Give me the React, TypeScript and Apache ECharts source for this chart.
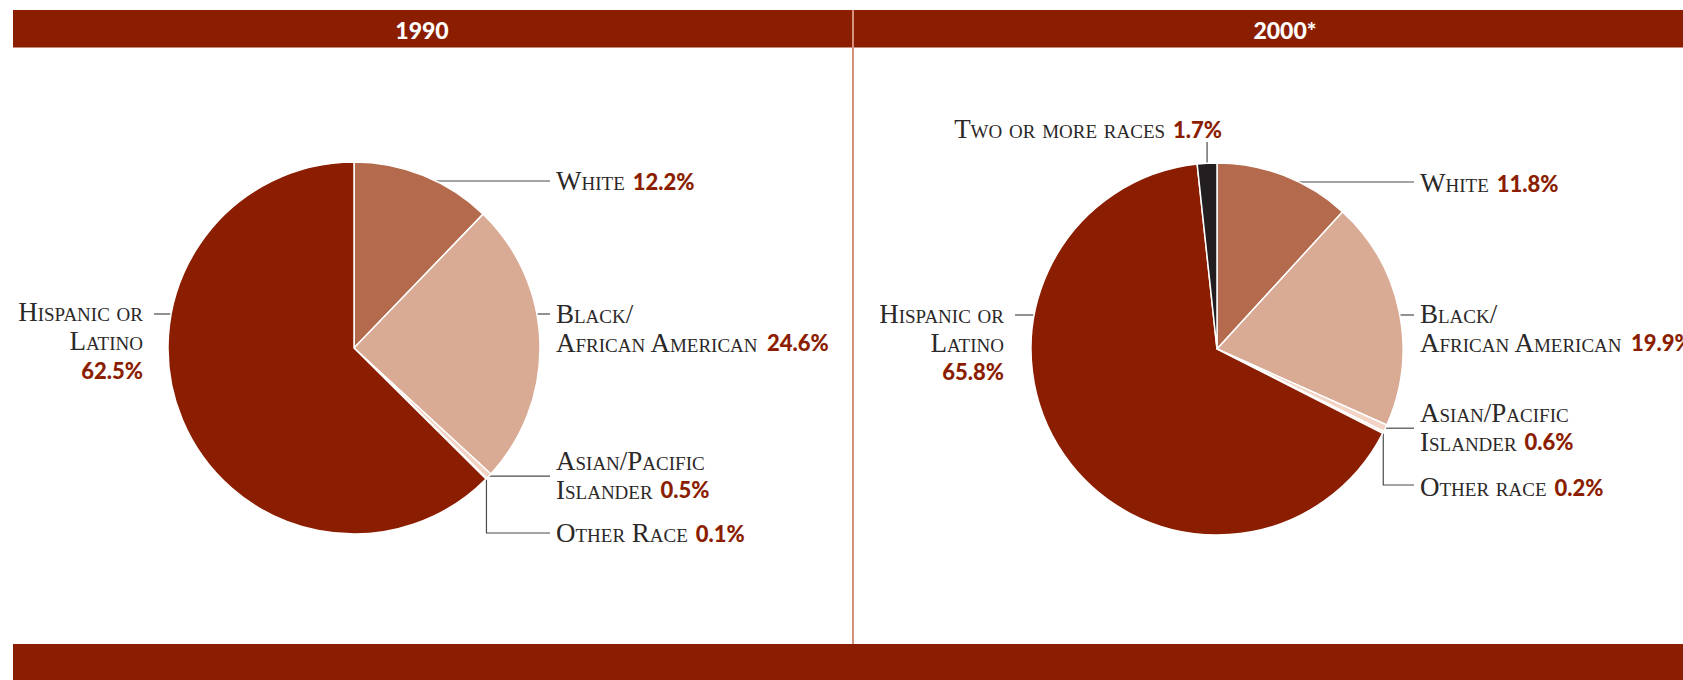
import React, { useEffect, useRef } from 'react';
import * as echarts from 'echarts';

// ---------- data ----------
const YEARS = ['1990', '2000*'];

const CATS_1990 = ['White', 'Black/\nAfrican American', 'Asian/Pacific\nIslander', 'Other Race', 'Hispanic or\nLatino'];
const VALS_1990 = [12.2, 24.6, 0.5, 0.1, 62.5];

const CATS_2000 = ['White', 'Black/\nAfrican American', 'Asian/Pacific\nIslander', 'Other race', 'Hispanic or\nLatino', 'Two or more races'];
const VALS_2000 = [11.8, 19.9, 0.6, 0.2, 65.8, 1.7];

// ---------- styles / layout ----------
const COLORS_1990 = ['#b46a4d', '#d9aa94', '#f2d3c4', '#f8e7de', '#8b1e00'];
const COLORS_2000 = ['#b46a4d', '#d9aa94', '#f2d3c4', '#f8e7de', '#8b1e00', '#231f20'];

const DARK_RED = '#8b1e00';
const DIVIDER = '#d4917b';
const LEADER = '#4a4a4a';

type Spot = {
  x: number;
  y: number;
  align: 'left' | 'right';
  va: 'top' | 'middle';
  lead: 'h' | 'edge' | 'elbow' | 'up';
  ly?: number;
  own?: boolean;
};

const PIES = [
  { cx: 354, cy: 348, r: 186 },
  { cx: 1217, cy: 349, r: 186 },
];

const SPOTS_1990: Spot[] = [
  { x: 556, y: 181, align: 'left', va: 'middle', lead: 'h', ly: 181 },
  { x: 556, y: 299, align: 'left', va: 'top', lead: 'h', ly: 314 },
  { x: 556, y: 475, align: 'left', va: 'middle', lead: 'edge' },
  { x: 556, y: 533, align: 'left', va: 'middle', lead: 'elbow', ly: 533 },
  { x: 143, y: 297.5, align: 'right', va: 'top', lead: 'h', ly: 314, own: true },
];
const SPOTS_2000: Spot[] = [
  { x: 1420, y: 183, align: 'left', va: 'middle', lead: 'h', ly: 182 },
  { x: 1420, y: 299, align: 'left', va: 'top', lead: 'h', ly: 315 },
  { x: 1420, y: 427, align: 'left', va: 'middle', lead: 'edge' },
  { x: 1420, y: 487, align: 'left', va: 'middle', lead: 'elbow', ly: 485 },
  { x: 1004, y: 299, align: 'right', va: 'top', lead: 'h', ly: 315, own: true },
  { x: 1222, y: 129, align: 'right', va: 'middle', lead: 'up', ly: 142 },
];

const RICH = {
  n: {
    fontFamily: 'Liberation Serif',
    fontStyle: 'small-caps',
    fontSize: 27,
    color: '#2b2828',
    lineHeight: 29,
  },
  p: {
    fontFamily: 'Lato',
    fontWeight: 900,
    fontSize: 22,
    color: DARK_RED,
    lineHeight: 29,
  },
  s: {
    fontFamily: 'Lato',
    fontSize: 22,
    lineHeight: 29,
    width: 8,
  },
};

function fmt(cat: string, val: number, own?: boolean) {
  const lines = cat.split('\n');
  const pct = `{p|${val.toFixed(1)}%}`;
  if (own) return lines.map((l) => `{n|${l}}`).join('\n') + '\n' + pct;
  return lines
    .map((l, i) => (i === lines.length - 1 ? `{n|${l}}{s| }${pct}` : `{n|${l}}`))
    .join('\n');
}

function edgePoint(pieIdx: number, vals: number[], i: number) {
  const { cx, cy, r } = PIES[pieIdx];
  const sum = vals.reduce((a, b) => a + b, 0);
  let cum = 0;
  for (let k = 0; k < i; k++) cum += vals[k];
  const th = ((cum + vals[i] / 2) / sum) * Math.PI * 2;
  return [cx + r * Math.sin(th), cy - r * Math.cos(th)];
}

function makeSeries(pieIdx: number, cats: string[], vals: number[], colors: string[], spots: Spot[]) {
  const { cx, cy, r } = PIES[pieIdx];
  return {
    type: 'pie',
    center: [cx, cy],
    radius: r,
    startAngle: 90,
    clockwise: true,
    avoidLabelOverlap: false,
    silent: true,
    animation: false,
    itemStyle: { borderColor: '#ffffff', borderWidth: 1.5 },
    emphasis: { disabled: true },
    label: {
      show: true,
      position: 'outside',
      formatter: (p: any) => fmt(cats[p.dataIndex], vals[p.dataIndex], spots[p.dataIndex].own),
      rich: RICH,
    },
    labelLine: {
      show: true,
      length: 5,
      length2: 5,
      smooth: false,
      lineStyle: { color: LEADER, width: 1.2 },
    },
    labelLayout: (p: any) => {
      const s = spots[p.dataIndex];
      const endX = s.align === 'left' ? s.x - 6 : s.x + 11;
      let pts: number[][] = [];
      if (s.lead === 'h') {
        const dy = (s.ly as number) - cy;
        const half = Math.sqrt(r * r - dy * dy) - 9;
        const sx = s.align === 'left' ? cx + half : cx - half;
        pts = [[sx, s.ly as number], [endX, s.ly as number]];
      } else if (s.lead === 'edge') {
        const e = edgePoint(pieIdx, vals, p.dataIndex);
        pts = [e, [endX, e[1]]];
      } else if (s.lead === 'elbow') {
        const e = edgePoint(pieIdx, vals, p.dataIndex);
        pts = [e, [e[0], s.ly as number], [endX, s.ly as number]];
      } else {
        const e = edgePoint(pieIdx, vals, p.dataIndex);
        pts = [e, [e[0], s.ly as number]];
      }
      return {
        x: s.x,
        y: s.y,
        align: s.align,
        verticalAlign: s.va,
        labelLinePoints: pts,
      };
    },
    data: cats.map((c, i) => ({ name: c, value: vals[i], itemStyle: { color: colors[i] } })),
  };
}

function buildOption() {
  return {
    animation: false,
    backgroundColor: '#ffffff',
    graphic: [
      { type: 'rect', shape: { x: 13, y: 10, width: 1670, height: 37.5 }, style: { fill: DARK_RED }, silent: true },
      { type: 'rect', shape: { x: 13, y: 644, width: 1670, height: 36 }, style: { fill: DARK_RED }, silent: true },
      { type: 'line', shape: { x1: 853, y1: 10, x2: 853, y2: 644 }, style: { stroke: DIVIDER, lineWidth: 2 }, silent: true },
      {
        type: 'text',
        x: 422,
        y: 30,
        style: { text: YEARS[0], fill: '#ffffff', font: '900 23px Lato', align: 'center', verticalAlign: 'middle', textAlign: 'center', textVerticalAlign: 'middle' },
        silent: true,
      },
      {
        type: 'text',
        x: 1285,
        y: 30,
        style: { text: YEARS[1], fill: '#ffffff', font: '900 23px Lato', align: 'center', verticalAlign: 'middle', textAlign: 'center', textVerticalAlign: 'middle' },
        silent: true,
      },
    ],
    series: [
      makeSeries(0, CATS_1990, VALS_1990, COLORS_1990, SPOTS_1990),
      makeSeries(1, CATS_2000, VALS_2000, COLORS_2000, SPOTS_2000),
    ],
  };
}

const CSS = `#chart-host svg text, #chart-host svg tspan { font-variant-caps: small-caps !important; }`;

export default function App() {
  const ref = useRef<HTMLDivElement>(null);
  useEffect(() => {
    const el = ref.current as HTMLDivElement;
    const chart = echarts.init(el, null, { renderer: 'svg', width: 1683, height: 680 });
    chart.setOption(buildOption() as any);
    return () => chart.dispose();
  }, []);
  return (
    <>
      <style>{CSS}</style>
      <div
        id="chart-host"
        ref={ref}
        style={{ position: 'fixed', left: 0, top: 0, width: 1683, height: 680, background: '#ffffff' }}
      />
    </>
  );
}
